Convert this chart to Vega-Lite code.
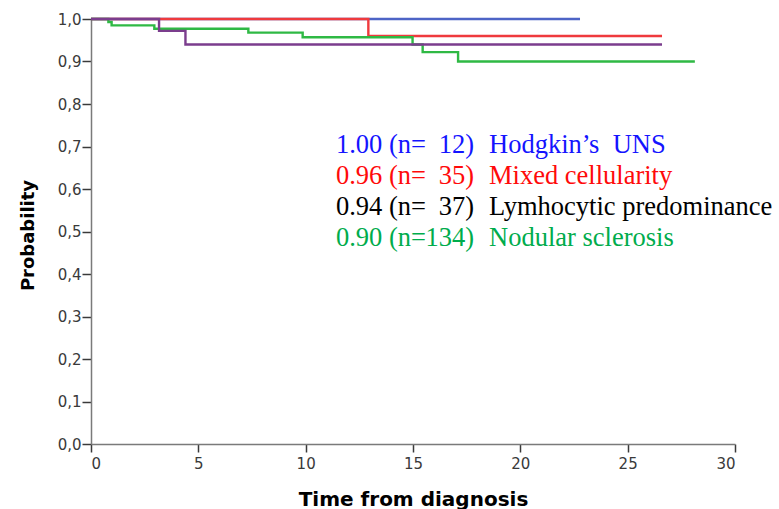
{
  "$schema": "https://vega.github.io/schema/vega-lite/v6.json",
  "width": 644,
  "height": 425,
  "autosize": {"type": "none"},
  "padding": {"left": 91, "top": 19, "right": 44, "bottom": 65},
  "background": "white",
  "config": {
    "view": {"stroke": null},
    "axis": {
      "grid": false,
      "labelFont": "DejaVu Sans",
      "labelFontSize": 15,
      "labelColor": "#3a3a3a",
      "domainColor": "#7a7a7a",
      "domainWidth": 1.5,
      "tickColor": "#3a3a3a",
      "tickWidth": 1.5,
      "titleFont": "DejaVu Sans",
      "titleFontWeight": "bold",
      "titleColor": "#000000"
    }
  },
  "datasets": {
    "curves": [
      {"group": "Hodgkin's UNS", "time": 0, "surv": 1.0},
      {"group": "Hodgkin's UNS", "time": 22.78, "surv": 1.0},
      {"group": "Mixed cellularity", "time": 0, "surv": 1.0},
      {"group": "Mixed cellularity", "time": 12.92, "surv": 0.96},
      {"group": "Mixed cellularity", "time": 26.6, "surv": 0.96},
      {"group": "Nodular sclerosis", "time": 0, "surv": 1.0},
      {"group": "Nodular sclerosis", "time": 0.81, "surv": 0.993},
      {"group": "Nodular sclerosis", "time": 0.96, "surv": 0.985},
      {"group": "Nodular sclerosis", "time": 2.95, "surv": 0.977},
      {"group": "Nodular sclerosis", "time": 7.33, "surv": 0.968},
      {"group": "Nodular sclerosis", "time": 9.86, "surv": 0.957},
      {"group": "Nodular sclerosis", "time": 14.98, "surv": 0.94},
      {"group": "Nodular sclerosis", "time": 15.45, "surv": 0.922},
      {"group": "Nodular sclerosis", "time": 17.1, "surv": 0.9},
      {"group": "Nodular sclerosis", "time": 28.13, "surv": 0.9},
      {"group": "Lymhocytic predominance", "time": 0, "surv": 1.0},
      {"group": "Lymhocytic predominance", "time": 3.17, "surv": 0.972},
      {"group": "Lymhocytic predominance", "time": 4.4, "surv": 0.94},
      {"group": "Lymhocytic predominance", "time": 26.6, "surv": 0.94}
    ],
    "summary": [
      {"rank": 1, "group": "Hodgkin's UNS", "label": "Hodgkin’s\u00a0 UNS", "est": "1.00", "n": "12"},
      {"rank": 2, "group": "Mixed cellularity", "label": "Mixed cellularity", "est": "0.96", "n": "35"},
      {"rank": 3, "group": "Lymhocytic predominance", "label": "Lymhocytic predominance", "est": "0.94", "n": "37"},
      {"rank": 4, "group": "Nodular sclerosis", "label": "Nodular sclerosis", "est": "0.90", "n": "134"}
    ]
  },
  "layer": [
    {
      "data": {"name": "curves"},
      "mark": {"type": "line", "interpolate": "step-after", "strokeWidth": 2.4},
      "encoding": {
        "x": {
          "field": "time",
          "type": "quantitative",
          "scale": {"domain": [0, 30], "nice": false},
          "axis": {
            "title": "Time from diagnosis",
            "titleFontSize": 20,
            "titleBaseline": "alphabetic",
            "titleY": 61,
            "values": [0, 5, 10, 15, 20, 25, 30],
            "tickSize": 8,
            "labelPadding": 4
          }
        },
        "y": {
          "field": "surv",
          "type": "quantitative",
          "scale": {"domain": [0, 1], "nice": false},
          "axis": {
            "title": "Probability",
            "titleFontSize": 18,
            "titleAngle": -90,
            "titleBaseline": "alphabetic",
            "titleX": -58,
            "titleY": 216,
            "titleAlign": "center",
            "values": [0, 0.1, 0.2, 0.3, 0.4, 0.5, 0.6, 0.7, 0.8, 0.9, 1.0],
            "format": ".1f",
            "labelExpr": "replace(datum.label, '.', ',')",
            "tickSize": 9,
            "labelPadding": 1
          }
        },
        "color": {
          "field": "group",
          "type": "nominal",
          "sort": null,
          "scale": {
            "domain": ["Hodgkin's UNS", "Mixed cellularity", "Nodular sclerosis", "Lymhocytic predominance"],
            "range": ["#4d64c6", "#ef3a3d", "#2fb944", "#7b3d8d"]
          },
          "legend": null
        }
      }
    },
    {
      "data": {"name": "summary"},
      "transform": [
        {"calculate": "datum.est + ' (n='", "as": "head"},
        {"calculate": "datum.n + ')'", "as": "count"}
      ],
      "encoding": {
        "y": {
          "field": "rank",
          "type": "quantitative",
          "scale": {"domain": [-3.052, 10.614], "reverse": true, "nice": false, "zero": false},
          "axis": null
        },
        "color": {
          "field": "group",
          "type": "nominal",
          "scale": {
            "domain": ["Hodgkin's UNS", "Mixed cellularity", "Lymhocytic predominance", "Nodular sclerosis"],
            "range": ["#1414ff", "#ff0a0a", "#000000", "#00ac4c"]
          },
          "legend": null
        }
      },
      "layer": [
        {
          "mark": {"type": "text", "font": "Liberation Serif", "fontSize": 26.5, "align": "left", "baseline": "middle"},
          "encoding": {"x": {"datum": 11.41, "type": "quantitative"}, "text": {"field": "head"}}
        },
        {
          "mark": {"type": "text", "font": "Liberation Serif", "fontSize": 26.5, "align": "right", "baseline": "middle"},
          "encoding": {"x": {"datum": 17.84, "type": "quantitative"}, "text": {"field": "count"}}
        },
        {
          "mark": {"type": "text", "font": "Liberation Serif", "fontSize": 26.5, "align": "left", "baseline": "middle"},
          "encoding": {"x": {"datum": 18.54, "type": "quantitative"}, "text": {"field": "label"}}
        }
      ]
    }
  ],
  "resolve": {"scale": {"y": "independent", "color": "independent"}}
}
